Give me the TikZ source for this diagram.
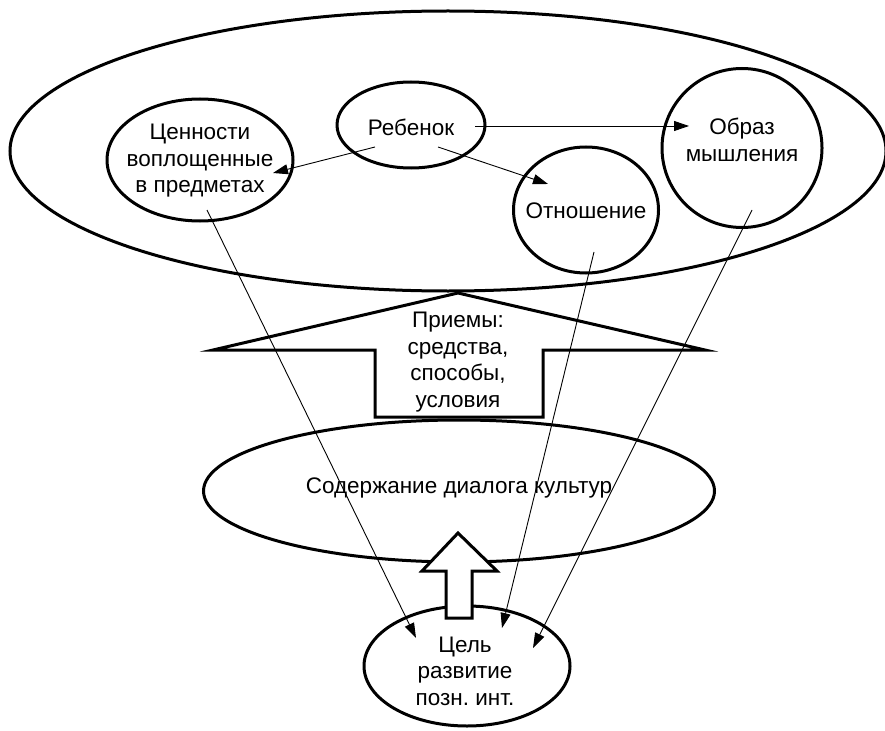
\documentclass[tikz,border=0pt]{standalone}
\usepackage{fontspec}
\setmainfont{Liberation Sans}
\usetikzlibrary{arrows.meta,shapes.geometric}
\frenchspacing
\begin{document}
\begin{tikzpicture}[x=1pt,y=-1pt,
  thickline/.style={line width=3pt, line join=miter},
  oval/.style={ellipse, draw, line width=3pt, inner sep=0pt},
  lbl/.style={align=center, font=\fontsize{22.5}{26.5}\selectfont, inner sep=0pt},
  conn/.style={line width=0.9pt, -{Triangle[length=15pt,width=10pt]}}
]
\useasboundingbox (0,0) rectangle (885,730);
% big ellipse
\node[oval, minimum width=876pt, minimum height=280pt] (big) at (448,151) {};
% inner ovals
\node[oval, minimum width=186pt, minimum height=122pt] (cen) at (200,160) {};
\node[lbl] (centext) at (200,161) {Ценности\\воплощенные\\в предметах};
\node[oval, minimum width=148pt, minimum height=86pt] (reb) at (411,125) {};
\node[lbl] (rebtext) at (411,127) {Ребенок};
\node[oval, minimum width=145pt, minimum height=126pt] (otn) at (586,210) {};
\node[lbl] (otntext) at (586,211) {Отношение};
\node[oval, minimum width=160pt, minimum height=159pt] (obr) at (742,148) {};
\node[lbl] (obrtext) at (742,140) {Образ\\мышления};
% arrows from Ребенок
\coordinate (r1s) at (475,126);
\coordinate (r1e) at (689,126);
\coordinate (r2s) at (375,147);
\coordinate (r2e) at (273,173);
\coordinate (r3s) at (438,147);
\coordinate (r3e) at (548,184);
\draw[conn] (r1s) -- (r1e);
\draw[conn] (r2s) -- (r2e);
\draw[conn] (r3s) -- (r3e);
% Приемы arrow shape
\draw[thickline] (458,293) -- (705,350) -- (543,350) -- (543,417) -- (375,417) -- (375,350) -- (213,350) -- cycle;
\node[lbl] (prm) at (458,362) {Приемы:\\средства,\\способы,\\условия};
% content ellipse
\node[oval, minimum width=511pt, minimum height=142pt] (sod) at (459,491) {};
\node[lbl] (sodtext) at (459,488) {Содержание диалога культур};
% goal ellipse
\node[oval, minimum width=206pt, minimum height=120pt] (cel) at (467,666) {};
\node[lbl] (celtext) at (465,671) {Цель\\развитие\\позн. инт.};
% small up arrow
\draw[thickline, fill=white] (458,533) -- (497,571) -- (472,571) -- (472,618) -- (446,618) -- (446,571) -- (422,571) -- cycle;
% thin lines to goal
\coordinate (s1) at (207,210);
\coordinate (t1) at (416,638);
\coordinate (s2) at (594,252);
\coordinate (t2) at (502,628);
\coordinate (s3) at (752,210);
\coordinate (t3) at (533,648);
\draw[conn] (s1) -- (t1);
\draw[conn] (s2) -- (t2);
\draw[conn] (s3) -- (t3);
\end{tikzpicture}
\end{document}
